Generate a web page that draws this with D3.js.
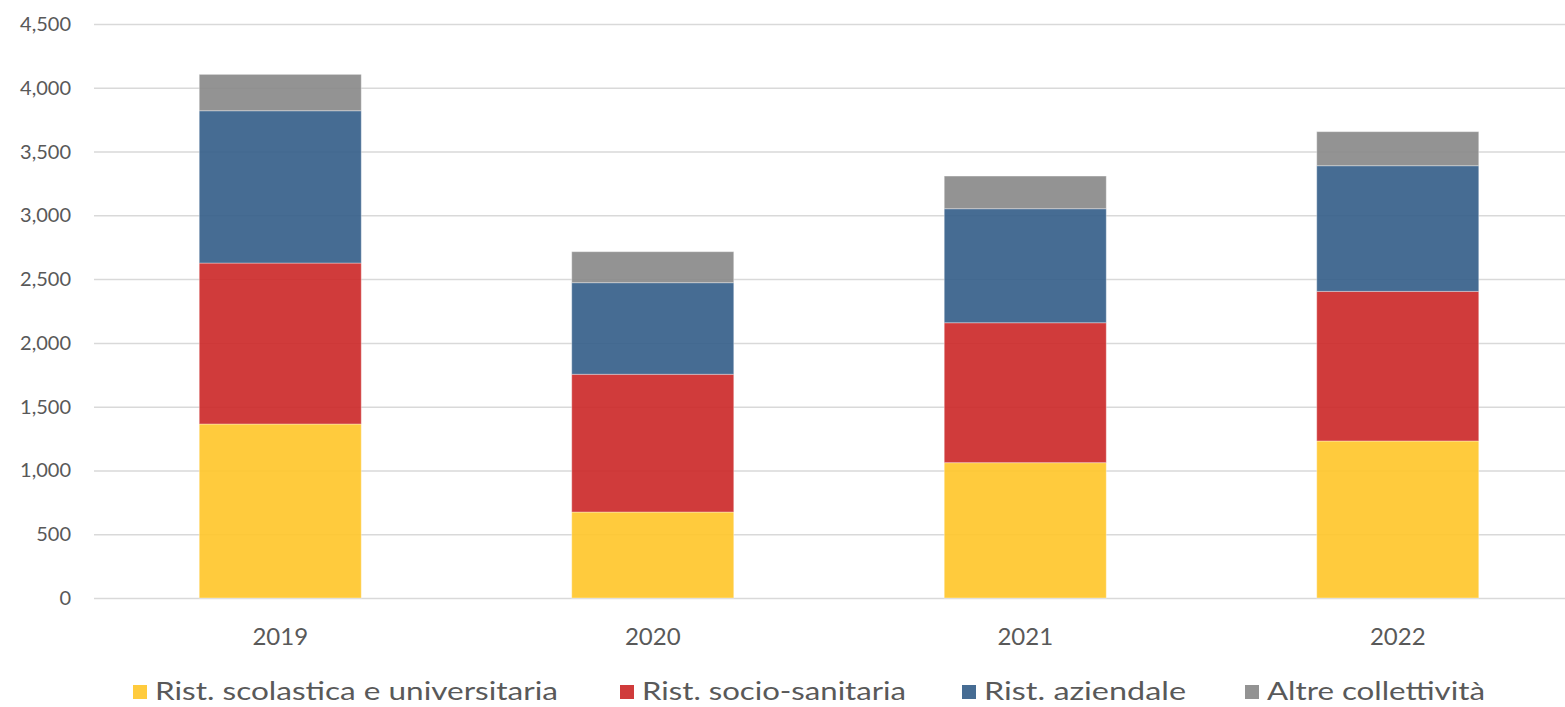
<!DOCTYPE html>
<html><head><meta charset="utf-8">
<script src="https://cdn.jsdelivr.net/npm/d3@7"></script>
<style>html,body{margin:0;padding:0;background:#fff;}svg{display:block;font-family:"Lato","Open Sans",sans-serif;}</style>
</head><body><svg id="c" width="1565" height="707"></svg>
<script>
const categories = ["2019","2020","2021","2022"];
const seriesNames = ["Rist. scolastica e universitaria","Rist. socio-sanitaria","Rist. aziendale","Altre collettività"];
const scolastica = [1364, 674, 1061, 1231];
const socioSanitaria = [1262, 1080, 1097, 1173];
const aziendale = [1194, 718, 894, 985];
const altre = [285, 243, 256, 267];
const yTicks = [0,500,1000,1500,2000,2500,3000,3500,4000,4500];
const colors = ["#FFC72C","#CC2A2A","#36608A","#8A8A8A"];

const seriesValues = [scolastica, socioSanitaria, aziendale, altre];
const rows = categories.map((c,i)=>{const r={cat:c}; seriesNames.forEach((s,j)=>r[s]=seriesValues[j][i]); return r;});
const stack = d3.stack().keys(seriesNames)(rows);

const svg = d3.select("#c");
const L=94, R=1565, T=24, B=598;
const x = d3.scaleBand().domain(categories).range([L,1584]).paddingInner(0.565).paddingOuter(0.2825);
const y = d3.scaleLinear().domain([0,4500]).range([B,T]);

// gridlines
svg.append("g").selectAll("line").data(yTicks).join("line")
  .attr("x1",L).attr("x2",R).attr("y1",d=>y(d)+0.5).attr("y2",d=>y(d)+0.5)
  .attr("stroke","#d9d9d9").attr("stroke-width",1.5);

// y labels
const fmt = d3.format(",");
svg.append("g").selectAll("text").data(yTicks).join("text")
  .attr("x",71).attr("y",d=>y(d)).attr("dy","0.35em").attr("text-anchor","end")
  .attr("font-size",20).attr("fill","#595959").text(d=>fmt(d));

// bars
svg.append("g").selectAll("g").data(stack).join("g")
  .attr("fill",(d,i)=>colors[i]).attr("fill-opacity",0.92)
  .selectAll("rect").data(d=>d).join("rect")
  .attr("x",d=>x(d.data.cat)).attr("width",x.bandwidth())
  .attr("y",d=>y(d[1])).attr("height",d=>y(d[0])-y(d[1]))
  .attr("stroke","#ffffff").attr("stroke-opacity",0.35).attr("stroke-width",1);

// x labels
svg.append("g").selectAll("text").data(categories).join("text")
  .attr("x",d=>x(d)+x.bandwidth()/2).attr("y",645).attr("text-anchor","middle")
  .attr("font-size",24).attr("fill","#595959").text(d=>d);

// legend
const legX = [133, 620, 962, 1245];
const legW = [403, 264, 202, 218];
const lg = svg.append("g").selectAll("g").data(seriesNames).join("g");
lg.append("rect").attr("x",(d,i)=>legX[i]).attr("y",685).attr("width",14).attr("height",14)
  .attr("fill",(d,i)=>colors[i]).attr("fill-opacity",0.92);
lg.append("text").attr("x",(d,i)=>legX[i]+22).attr("y",700)
  .attr("font-size",25).attr("fill","#595959")
  .attr("textLength",(d,i)=>legW[i]).attr("lengthAdjust","spacingAndGlyphs").text(d=>d);
</script></body></html>
